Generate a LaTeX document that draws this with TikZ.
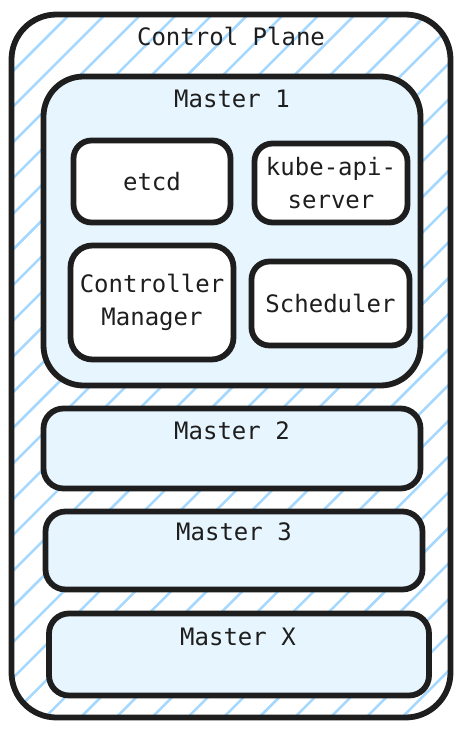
\documentclass[tikz,border=0pt]{standalone}
\usepackage{fontspec}
\setmonofont{DejaVu Sans Mono}
\begin{document}
\begin{tikzpicture}[x=1pt,y=-1pt,
  stroke/.style={draw=ink,line width=5.8pt},
  outerbox/.style={stroke,rounded corners=45pt,minimum width=439pt,minimum height=703pt,inner sep=0pt},
  masterbox/.style={stroke,fill=mfill,inner sep=0pt},
  compbox/.style={stroke,fill=white,inner sep=0pt,rounded corners=18pt,align=center,
    font=\ttfamily\fontsize{24}{33}\selectfont,text=ink},
  title/.style={font=\ttfamily\fontsize{24}{33}\selectfont,text=ink,inner sep=0pt}]
\definecolor{ink}{HTML}{1E1E1E}
\definecolor{mfill}{HTML}{E7F5FF}
\definecolor{hatch}{HTML}{A5D8FF}
\useasboundingbox (0,0) rectangle (464,730);
% hatch
\begin{scope}
  \clip[rounded corners=45pt] (11.5,14.5) rectangle (450.5,717.5);
  \fill[white] (11.5,14.5) rectangle (450.5,717.5);
  \foreach \k in {-3,...,36}{
    \pgfmathsetmacro{\c}{84+35.7*\k}
    \draw[hatch,line width=2.5pt] (\c,0) -- (\c-800,800);
  }
\end{scope}
\node[outerbox] (cp) at (231,366) {};
\node[title] (cpt) at (231,36) {Control Plane};
% Master 1
\node[masterbox,rounded corners=40pt,minimum width=377pt,minimum height=309pt] (m1) at (232,231) {};
\node[title] (m1t) at (232,99) {Master 1};
\node[compbox,minimum width=157pt,minimum height=82pt] (etcd) at (152,181.5) {etcd};
\node[compbox,minimum width=153pt,minimum height=79pt] (api) at (331,183) {kube-api-\\server};
\node[compbox,rounded corners=22pt,minimum width=163pt,minimum height=114pt] (cm) at (152,302.5) {Controller\\Manager};
\node[compbox,minimum width=158pt,minimum height=84pt] (sch) at (330.5,303.5) {Scheduler};
% Masters 2,3,X
\node[masterbox,rounded corners=20pt,minimum width=377pt,minimum height=80pt] (m2) at (232,448.5) {};
\node[title] (m2t) at (232,431) {Master 2};
\node[masterbox,rounded corners=20pt,minimum width=377pt,minimum height=78pt] (m3) at (234,550.5) {};
\node[title] (m3t) at (234,532) {Master 3};
\node[masterbox,rounded corners=20pt,minimum width=380pt,minimum height=82pt] (mx) at (239,654.5) {};
\node[title] (mxt) at (238,637) {Master X};
\end{tikzpicture}
\end{document}
